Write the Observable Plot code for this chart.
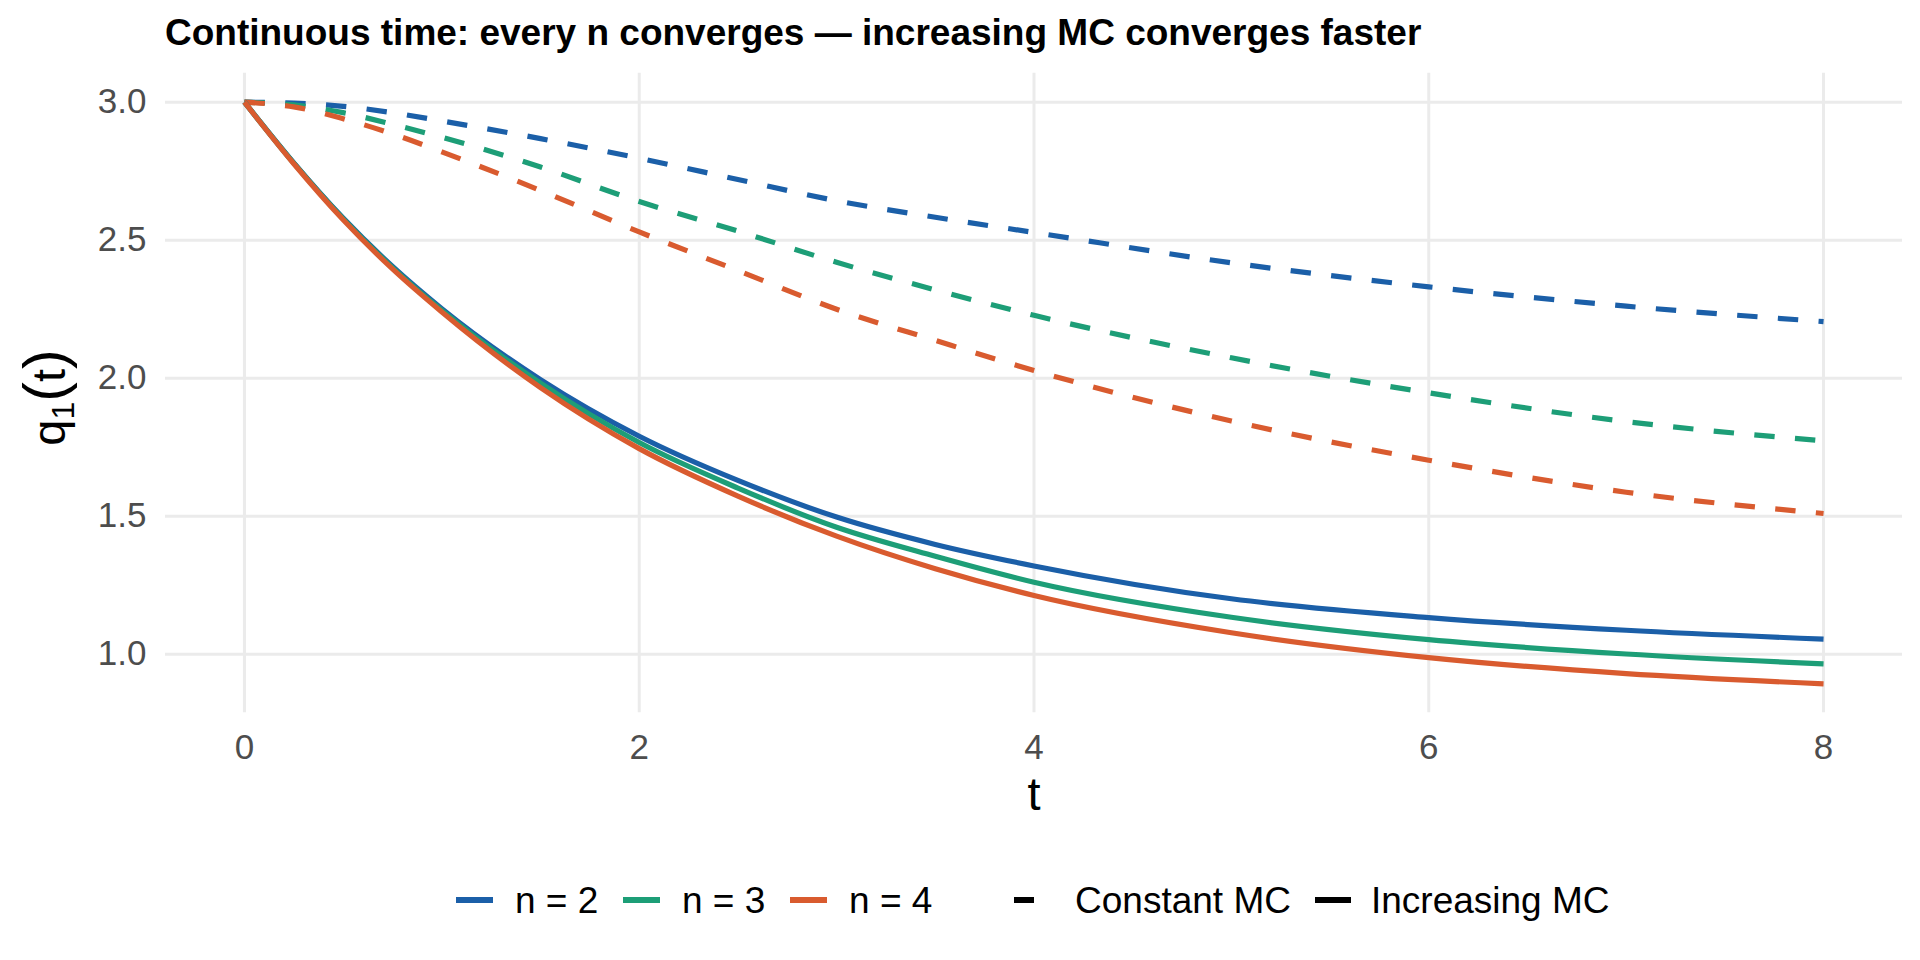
<!DOCTYPE html>
<html>
<head>
<meta charset="utf-8">
<script src="https://cdn.jsdelivr.net/npm/d3@7"></script>
<script src="https://cdn.jsdelivr.net/npm/@observablehq/plot@0.6"></script>
<style>
  html, body { margin: 0; padding: 0; background: #fff; }
  #wrap { position: relative; width: 1920px; height: 960px; font-family: "Liberation Sans", Arial, Helvetica, sans-serif; }
  #title { height: 60px; box-sizing: border-box; padding-top: 15px; padding-left: 165px; font-size: 37px; line-height: 36px; font-weight: bold; color: #000; white-space: nowrap; }
  #chart svg { display: block; }
  #chart g[aria-label="x-axis tick label"] text, #chart g[aria-label="y-axis tick label"] text { fill: #4d4d4d; }
  #legend { position: absolute; left: 456px; top: 880px; height: 40px; display: flex; align-items: center; font-size: 37px; line-height: 37px; color: #000; white-space: nowrap; }
  .key { width: 37px; height: 40px; position: relative; flex: none; }
  .key .seg { position: absolute; left: 0; top: 17.4px; height: 5.2px; }
  .lab { margin-left: 22px; margin-right: 24.7px; }
</style>
</head>
<body>
<div id="wrap">
  <div id="title">Continuous time: every n converges — increasing MC converges faster</div>
  <div id="chart"></div>
  <div id="legend"></div>
</div>
<script>
// ---- data ----
const tValues = [0, 0.25, 0.5, 0.75, 1, 1.5, 2, 2.5, 3, 3.5, 4, 5, 6, 7, 8];

const nLabels = ["n = 2", "n = 3", "n = 4"];
const mcLabels = ["Constant MC", "Increasing MC"];
const nColors = ["#1b5fa8", "#1d9e77", "#d95b2f"];

// Constant MC (dashed)
const constN2 = [3.000, 2.997, 2.985, 2.962, 2.932, 2.868, 2.797, 2.720, 2.643, 2.583, 2.528, 2.418, 2.331, 2.261, 2.205];
const constN3 = [3.000, 2.990, 2.962, 2.920, 2.873, 2.765, 2.640, 2.533, 2.420, 2.320, 2.228, 2.074, 1.947, 1.843, 1.773];
const constN4 = [3.000, 2.983, 2.940, 2.885, 2.820, 2.680, 2.530, 2.390, 2.250, 2.137, 2.028, 1.845, 1.703, 1.587, 1.510];

// Increasing MC (solid)
const incN2 = [3.000, 2.780, 2.580, 2.405, 2.252, 1.995, 1.790, 1.630, 1.497, 1.398, 1.320, 1.201, 1.133, 1.087, 1.055];
const incN3 = [3.000, 2.779, 2.578, 2.401, 2.246, 1.982, 1.767, 1.602, 1.460, 1.355, 1.261, 1.134, 1.053, 1.001, 0.965];
const incN4 = [3.000, 2.777, 2.574, 2.396, 2.240, 1.966, 1.745, 1.573, 1.428, 1.310, 1.213, 1.078, 0.988, 0.930, 0.893];

const xTicks = [0, 2, 4, 6, 8];
const yTicks = [1.0, 1.5, 2.0, 2.5, 3.0];

// ---- tables ----
function rows(seriesList, mc) {
  const out = [];
  seriesList.forEach((vals, i) => {
    vals.forEach((q, j) => out.push({t: tValues[j], q, n: nLabels[i], mc}));
  });
  return out;
}
const constRows = rows([constN2, constN3, constN4], mcLabels[0]);
const incRows = rows([incN2, incN3, incN4], mcLabels[1]);

const lineW = 5.2;

const svg = Plot.plot({
  width: 1920,
  height: 820,
  marginTop: 12.7,
  marginBottom: 167.7,
  marginLeft: 165,
  marginRight: 18,
  x: {domain: [-0.4, 8.4], label: null},
  y: {domain: [0.788, 3.105], label: null},
  color: {domain: nLabels, range: nColors},
  style: {fontFamily: '"Liberation Sans", Arial, Helvetica, sans-serif', fontSize: "35px", color: "#4d4d4d", background: "#fff", overflow: "visible"},
  marks: [
    Plot.gridX(xTicks, {stroke: "#ebebeb", strokeOpacity: 1, strokeWidth: 3}),
    Plot.gridY(yTicks, {stroke: "#ebebeb", strokeOpacity: 1, strokeWidth: 3}),
    Plot.axisX(xTicks, {tickSize: 0, tickPadding: 21, fontSize: 35, tickFormat: d => String(d), label: null}),
    Plot.axisY(yTicks, {tickSize: 0, tickPadding: 19, fontSize: 35, tickFormat: d => d.toFixed(1), label: null}),
    Plot.line(constRows, {x: "t", y: "q", z: "n", stroke: "n", strokeWidth: lineW, strokeDasharray: "20.4,20.4", strokeLinecap: "butt", strokeLinejoin: "round", curve: "monotone-x"}),
    Plot.line(incRows, {x: "t", y: "q", z: "n", stroke: "n", strokeWidth: lineW, strokeLinecap: "butt", strokeLinejoin: "round", curve: "monotone-x"}),
    Plot.text(["t"], {text: d => d, frameAnchor: "bottom", dy: 97, fontSize: 47, fill: "#000"}),
    Plot.text(["q(t)"], {text: d => d, frameAnchor: "left", textAnchor: "middle", dx: -116, dy: 4.5, rotate: -90, fontSize: 47, fill: "#000"})
  ]
});
document.getElementById("chart").appendChild(svg);

// y title with subscript
const yt = Array.from(svg.querySelectorAll("text")).find(el => el.textContent === "q(t)");
if (yt) {
  while (yt.firstChild) yt.removeChild(yt.firstChild);
  const ns = "http://www.w3.org/2000/svg";
  const parts = [
    {s: "q"},
    {s: "1", fs: 32, dy: 9},
    {s: "(", fs: 59, dy: -9},
    {s: "t"},
    {s: ")", fs: 59}
  ];
  parts.forEach(p => {
    const ts = document.createElementNS(ns, "tspan");
    ts.textContent = p.s;
    if (p.fs) ts.style.fontSize = p.fs + "px";
    if (p.dy) ts.setAttribute("dy", p.dy);
    yt.appendChild(ts);
  });
}

// legend
const legend = document.getElementById("legend");
const colorScale = svg.scale("color");
nLabels.forEach((lab, i) => {
  const k = document.createElement("div");
  k.className = "key";
  const seg = document.createElement("div");
  seg.className = "seg";
  seg.style.width = "37px";
  seg.style.background = colorScale.apply(lab);
  k.appendChild(seg);
  legend.appendChild(k);
  const s = document.createElement("span");
  s.className = "lab";
  s.textContent = lab;
  if (i === nLabels.length - 1) s.style.marginRight = "81.7px";
  legend.appendChild(s);
});
mcLabels.forEach((lab, i) => {
  const k = document.createElement("div");
  k.className = "key";
  const seg = document.createElement("div");
  seg.className = "seg";
  seg.style.width = i === 0 ? "20.4px" : "36px";
  seg.style.background = "#000";
  k.appendChild(seg);
  legend.appendChild(k);
  const s = document.createElement("span");
  s.className = "lab";
  s.textContent = lab;
  if (i === 0) { s.style.marginLeft = "24px"; s.style.marginRight = "24px"; }
  if (i === 1) { s.style.marginLeft = "19px"; s.style.marginRight = "0"; }
  legend.appendChild(s);
});
</script>
</body>
</html>
